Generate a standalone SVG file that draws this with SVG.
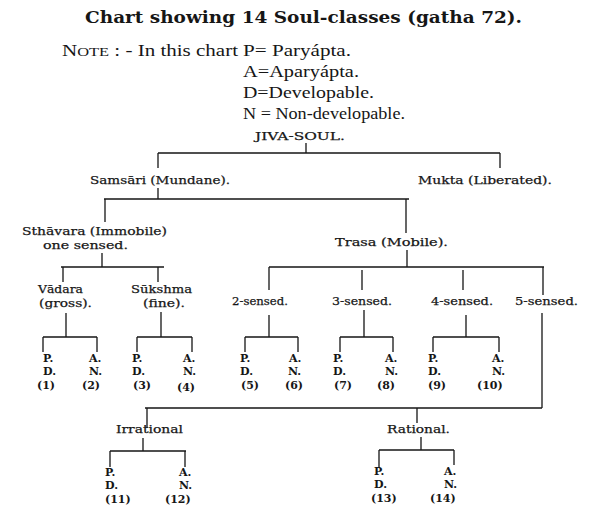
<svg xmlns="http://www.w3.org/2000/svg" width="600" height="515" viewBox="0 0 600 515">
<style>
text{fill:#161616}
.t{font-family:"DejaVu Serif","Liberation Serif",serif;font-size:11.5px;stroke:#161616;stroke-width:0.25}
.b{font-family:"DejaVu Serif","Liberation Serif",serif;font-size:11px;font-weight:bold}
.n{font-family:"Liberation Serif","Times New Roman",serif;font-size:16px}
.h{font-family:"DejaVu Serif","Liberation Serif",serif;font-size:16px;font-weight:bold}
#connectors path{stroke:#161616;stroke-width:1.3;fill:none}
</style>
<rect width="600" height="515" fill="#fff"/>
<g id="title"><text class="h" x="85" y="23" textLength="437" lengthAdjust="spacingAndGlyphs">Chart showing 14 Soul-classes (gatha 72).</text></g>
<g id="note">
<text class="n" x="62" y="56" textLength="176" lengthAdjust="spacingAndGlyphs">N<tspan font-size="12.5">OTE</tspan> : - In this chart</text>
<text class="n" x="243" y="56" textLength="108" lengthAdjust="spacingAndGlyphs">P= Paryápta.</text>
<text class="n" x="243" y="77" textLength="116" lengthAdjust="spacingAndGlyphs">A=Aparyápta.</text>
<text class="n" x="243" y="98" textLength="131" lengthAdjust="spacingAndGlyphs">D=Developable.</text>
<text class="n" x="243" y="119" textLength="162" lengthAdjust="spacingAndGlyphs">N = Non-developable.</text>
</g>
<g id="connectors">
<path d="M306,143V153M158,153H500M158,153V168M500,153V168"/>
<path d="M158,188V199M104,199H409M105,199V222M406,199V233"/>
<path d="M102,253V267M61,267H164M63,267V282M158,267V282"/>
<path d="M407,250V267M269,267H544M269,267V290M362,270V290M463,270V290M543,267V295"/>
<path d="M66,313V337M43,337H97M43,337V352M97,337V352"/>
<path d="M161,312V337M137,337H192M137,337V352M192,337V352"/>
<path d="M269,315V337M245,337H298M245,337V352M298,337V352"/>
<path d="M364,310V337M340,337H393M340,337V352M393,337V352"/>
<path d="M466,315V337M433,337H499M433,337V352M499,337V352"/>
<path d="M542,313V408M145,408H542M147,408V428M417,408V423"/>
<path d="M143,438V451M110,451H186M110,451V467M185,451V467"/>
<path d="M421,437V450M379,450H454M379,450V468M454,450V465"/>
</g>
<g id="jiva"><text class="t" x="255" y="140" textLength="90" lengthAdjust="spacingAndGlyphs">JIVA-SOUL.</text></g>
<g id="samsari"><text class="t" x="90" y="184" textLength="140" lengthAdjust="spacingAndGlyphs">Samsāri (Mundane).</text></g>
<g id="mukta"><text class="t" x="418" y="184" textLength="134" lengthAdjust="spacingAndGlyphs">Mukta (Liberated).</text></g>
<g id="sthavara"><text class="t" x="22" y="235" textLength="145" lengthAdjust="spacingAndGlyphs">Sthāvara (Immobile)</text><text class="t" x="43" y="249" textLength="85" lengthAdjust="spacingAndGlyphs">one sensed.</text></g>
<g id="trasa"><text class="t" x="335" y="246" textLength="113" lengthAdjust="spacingAndGlyphs">Trasa (Mobile).</text></g>
<g id="vadara"><text class="t" x="38" y="293" textLength="45" lengthAdjust="spacingAndGlyphs">Vādara</text><text class="t" x="39" y="307" textLength="53" lengthAdjust="spacingAndGlyphs">(gross).</text></g>
<g id="sukshma"><text class="t" x="131" y="293" textLength="61" lengthAdjust="spacingAndGlyphs">Sūkshma</text><text class="t" x="143" y="307" textLength="42" lengthAdjust="spacingAndGlyphs">(fine).</text></g>
<g id="s2"><text class="t" x="232" y="305" textLength="56" lengthAdjust="spacingAndGlyphs">2-sensed.</text></g>
<g id="s3"><text class="t" x="332" y="305" textLength="60" lengthAdjust="spacingAndGlyphs">3-sensed.</text></g>
<g id="s4"><text class="t" x="431" y="305" textLength="62" lengthAdjust="spacingAndGlyphs">4-sensed.</text></g>
<g id="s5"><text class="t" x="515" y="305" textLength="63" lengthAdjust="spacingAndGlyphs">5-sensed.</text></g>
<g id="c1"><text class="b" x="43" y="362">P.</text><text class="b" x="43" y="375">D.</text><text class="b" x="37" y="389">(1)</text></g>
<g id="c2"><text class="b" x="89" y="362">A.</text><text class="b" x="89" y="375">N.</text><text class="b" x="82" y="389">(2)</text></g>
<g id="c3"><text class="b" x="132" y="362">P.</text><text class="b" x="132" y="375">D.</text><text class="b" x="133" y="389">(3)</text></g>
<g id="c4"><text class="b" x="183" y="362">A.</text><text class="b" x="183" y="375">N.</text><text class="b" x="177" y="391">(4)</text></g>
<g id="c5"><text class="b" x="240" y="362">P.</text><text class="b" x="240" y="375">D.</text><text class="b" x="241" y="389">(5)</text></g>
<g id="c6"><text class="b" x="289" y="362">A.</text><text class="b" x="288" y="375">N.</text><text class="b" x="285" y="389">(6)</text></g>
<g id="c7"><text class="b" x="333" y="362">P.</text><text class="b" x="333" y="375">D.</text><text class="b" x="334" y="389">(7)</text></g>
<g id="c8"><text class="b" x="385" y="362">A.</text><text class="b" x="385" y="375">N.</text><text class="b" x="377" y="389">(8)</text></g>
<g id="c9"><text class="b" x="428" y="362">P.</text><text class="b" x="428" y="375">D.</text><text class="b" x="428" y="389">(9)</text></g>
<g id="c10"><text class="b" x="492" y="362">A.</text><text class="b" x="492" y="375">N.</text><text class="b" x="477" y="389">(10)</text></g>
<g id="irrational"><text class="t" x="116" y="433" textLength="67" lengthAdjust="spacingAndGlyphs">Irrational</text></g>
<g id="rational"><text class="t" x="387" y="433" textLength="63" lengthAdjust="spacingAndGlyphs">Rational.</text></g>
<g id="c11"><text class="b" x="105" y="476">P.</text><text class="b" x="105" y="489">D.</text><text class="b" x="105" y="503">(11)</text></g>
<g id="c12"><text class="b" x="179" y="476">A.</text><text class="b" x="179" y="489">N.</text><text class="b" x="165" y="503">(12)</text></g>
<g id="c13"><text class="b" x="374" y="475">P.</text><text class="b" x="374" y="488">D.</text><text class="b" x="371" y="502">(13)</text></g>
<g id="c14"><text class="b" x="444" y="475">A.</text><text class="b" x="444" y="488">N.</text><text class="b" x="430" y="502">(14)</text></g>
</svg>
